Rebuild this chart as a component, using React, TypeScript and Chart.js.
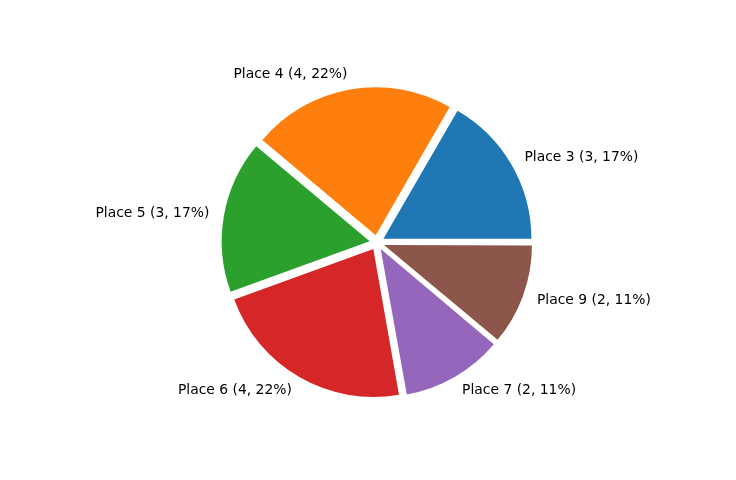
import React, { useEffect, useRef } from "react";
import { Chart, registerables } from "chart.js";

Chart.register(...registerables);

// values
const places = ["Place 3", "Place 4", "Place 5", "Place 6", "Place 7", "Place 9"];
const counts = [3, 4, 3, 4, 2, 2];
const colors = ["#1f77b4", "#ff7f0e", "#2ca02c", "#d62728", "#9467bd", "#8c564b"];

const total = counts.reduce((a, b) => a + b, 0);
const labelTexts = places.map(
  (p, i) => `${p} (${counts[i]}, ${Math.round((counts[i] / total) * 100)}%)`
);

// matplotlib goes counter-clockwise from 3 o'clock, chart.js clockwise -> reverse
const revLabels = [...labelTexts].reverse();
const revCounts = [...counts].reverse();
const revColors = [...colors].reverse();

const RADIUS = 148;
const EXPLODE = 7.4;

// chart.js grows offset arcs a little (offset * (1 - sin(circumference))), undo that
const fixRadius = {
  id: "fixRadius",
  beforeDatasetsDraw(chart: Chart) {
    const meta = chart.getDatasetMeta(0);
    meta.data.forEach((arc: any) => {
      const circ = arc.endAngle - arc.startAngle;
      const fix = 1 - Math.sin(Math.min(Math.PI, circ));
      arc.outerRadius = RADIUS - EXPLODE * fix;
    });
  },
};

const outsideLabels = {
  id: "outsideLabels",
  afterDatasetsDraw(chart: Chart) {
    const ctx = chart.ctx;
    const meta = chart.getDatasetMeta(0);
    ctx.save();
    ctx.font = '13.9px "DejaVu Sans"';
    ctx.fillStyle = "#000";
    ctx.textBaseline = "middle";
    meta.data.forEach((arc: any, i: number) => {
      const mid = (arc.startAngle + arc.endAngle) / 2;
      const d = EXPLODE + 1.1 * RADIUS;
      const x = arc.x + Math.cos(mid) * d;
      const y = arc.y + Math.sin(mid) * d;
      ctx.textAlign = Math.cos(mid) > 0 ? "left" : "right";
      ctx.fillText(revLabels[i], x, y);
    });
    ctx.restore();
  },
};

const PieChart: React.FC = () => {
  const chartRef = useRef<HTMLCanvasElement>(null);

  useEffect(() => {
    document.body.style.margin = "0";
    let pie: Chart | null = null;
    if (chartRef.current) {
      pie = new Chart(chartRef.current, {
        type: "pie",
        data: {
          labels: revLabels,
          datasets: [
            {
              data: revCounts,
              backgroundColor: revColors,
              borderWidth: 0,
              offset: EXPLODE * 4,
              hoverOffset: EXPLODE * 4,
              clip: false,
            } as any,
          ],
        },
        options: {
          responsive: false,
          animation: false,
          rotation: 90,
          radius: RADIUS,
          layout: { padding: { left: 18, right: 0, top: 5, bottom: 0 } },
          plugins: {
            legend: { display: false },
            tooltip: { enabled: false },
          },
          events: [],
        } as any,
        plugins: [fixRadius, outsideLabels],
      });
    }
    return () => {
      if (pie) pie.destroy();
    };
  }, []);

  return <canvas ref={chartRef} width={736} height={480} />;
};

export default function App() {
  return <PieChart />;
}
